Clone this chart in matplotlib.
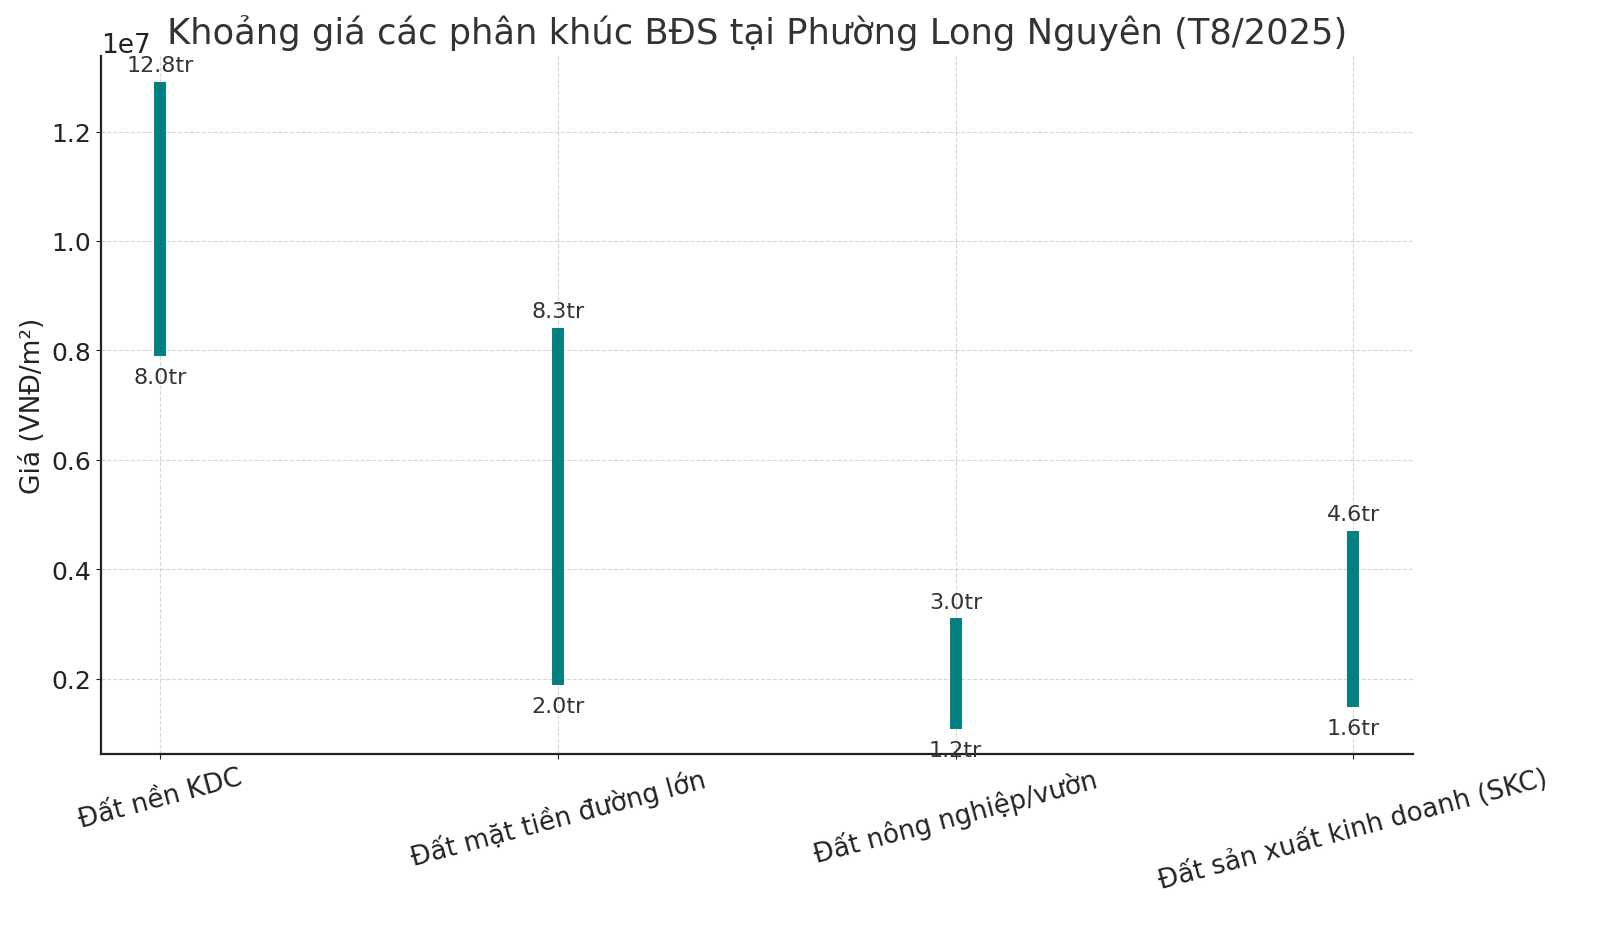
# Khoảng giá các phân khúc BĐS tại Phường Long Nguyên (T8/2025)

import matplotlib
matplotlib.use("Agg")
import matplotlib.pyplot as plt

segments = ['Đất nền KDC', 'Đất mặt tiền đường lớn', 'Đất nông nghiệp/vườn', 'Đất sản xuất kinh doanh (SKC)']
price_low = [8.0e6, 2.0e6, 1.2e6, 1.6e6]
price_high = [12.8e6, 8.3e6, 3.0e6, 4.6e6]


def main():
    plt.rcParams['font.family'] = ['DejaVu Sans']
    fig, ax = plt.subplots(figsize=(16, 9.28), dpi=100)
    fig.subplots_adjust(left=0.063, right=0.883, top=0.9386, bottom=0.186)

    for name, lo, hi in zip(segments, price_low, price_high):
        ax.plot([name, name], [lo, hi], color='teal', linewidth=8.6)
        ax.text(name, hi + 0.23e6, f"{hi/1e6:.1f}tr", ha='center', va='bottom',
                fontsize=16, color='#333333')
        ax.text(name, lo - 0.31e6, f"{lo/1e6:.1f}tr", ha='center', va='top',
                fontsize=16, color='#333333')

    ax.set_title("Khoảng giá các phân khúc BĐS tại Phường Long Nguyên (T8/2025)",
                 fontsize=25.4, color='#333333', pad=9)
    ax.set_ylabel("Giá (VNĐ/m²)", fontsize=19, color='#222222')
    ax.grid(True, linestyle='--', alpha=0.5)
    ax.tick_params(axis='both', labelsize=18, colors='#222222')
    ax.tick_params(axis='x', labelsize=18.8)
    ax.yaxis.get_offset_text().set_fontsize(19)
    plt.xticks(rotation=15)
    for side in ['top', 'right']:
        ax.spines[side].set_visible(False)
    for side in ['left', 'bottom']:
        ax.spines[side].set_linewidth(1.6)
        ax.spines[side].set_color('#222222')

    fig.savefig("out.png")


if __name__ == "__main__":
    main()
